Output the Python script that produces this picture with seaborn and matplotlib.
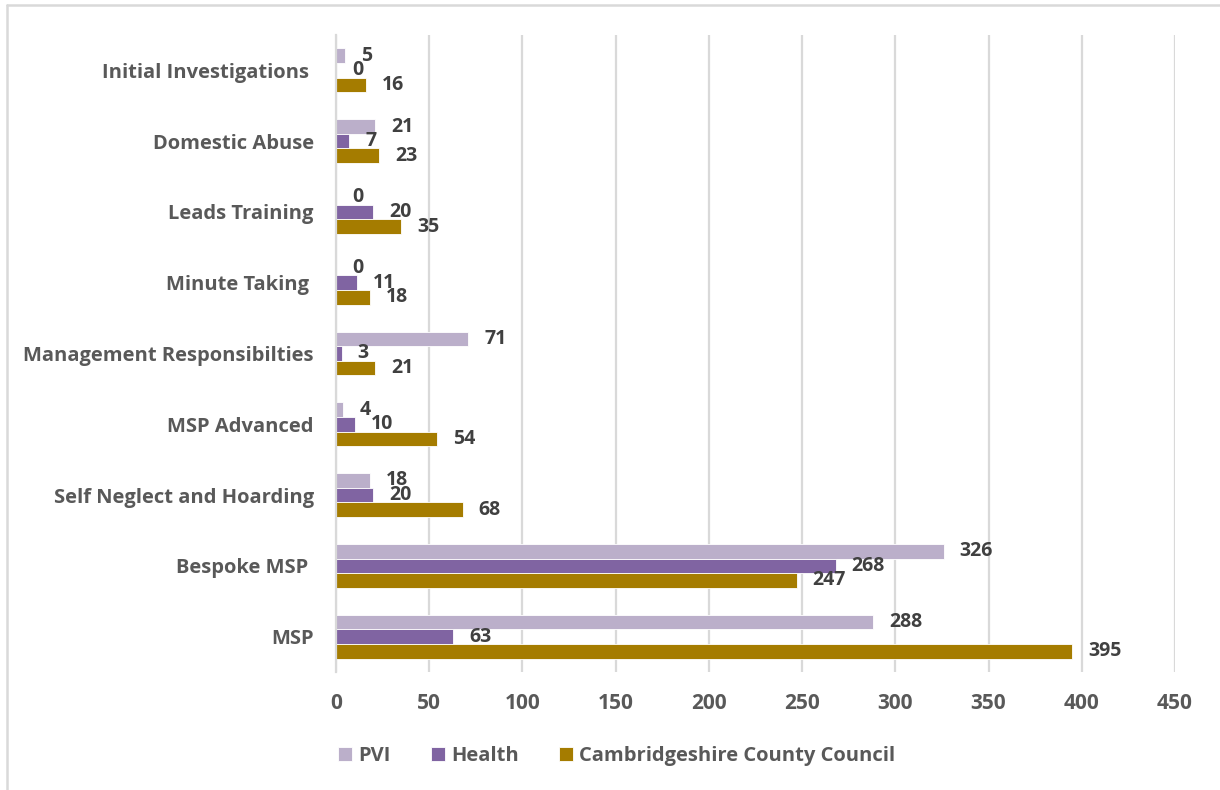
import matplotlib
matplotlib.use("Agg")
import matplotlib.pyplot as plt
from matplotlib.lines import Line2D
import pandas as pd
import seaborn as sns

# Course attendance by sector
categories = [
    "Initial Investigations ",
    "Domestic Abuse",
    "Leads Training",
    "Minute Taking ",
    "Management Responsibilties",
    "MSP Advanced",
    "Self Neglect and Hoarding",
    "Bespoke MSP ",
    "MSP",
]
series = ["PVI", "Health", "Cambridgeshire County Council"]
pvi = [5, 21, 0, 0, 71, 4, 18, 326, 288]
health = [0, 7, 20, 11, 3, 10, 20, 268, 63]
ccc = [16, 23, 35, 18, 21, 54, 68, 247, 395]
x_ticks = [0, 50, 100, 150, 200, 250, 300, 350, 400, 450]

colors = ["#bbafca", "#8064a2", "#a57c00"]
grid_gray = "#d9d9d9"
tick_gray = "#595959"
label_dark = "#404040"

rows = []
for name, vals in zip(series, [pvi, health, ccc]):
    for cat, v in zip(categories, vals):
        rows.append({"category": cat, "series": name, "value": v})
df = pd.DataFrame(rows)

sns.set_style("white")
plt.rcParams["font.family"] = ["Open Sans", "DejaVu Sans"]
plt.rcParams["font.weight"] = "bold"

fig = plt.figure(figsize=(12.2, 7.9), dpi=100)
ax = fig.add_axes([336 / 1220, 1 - 672 / 790, (1175 - 336) / 1220, (672 - 35) / 790])

sns.barplot(
    data=df, x="value", y="category", hue="series", orient="h",
    order=categories, hue_order=series, palette=colors,
    width=0.62, saturation=1, ax=ax, edgecolor="white", linewidth=0.6,
)

for cont in ax.containers:
    ax.bar_label(cont, fmt="%d", padding=11.5, fontsize=14,
                 fontweight="bold", color=label_dark)

ax.set_xlim(0, 450)
ax.set_xticks(x_ticks)
ax.set_ylim(len(categories) - 0.5, -0.5)
ax.set_xlabel("")
ax.set_ylabel("")

ax.grid(axis="x", color=grid_gray, linewidth=1.6)
ax.grid(axis="y", visible=False)
ax.set_axisbelow(True)
for s in ["top", "right", "bottom"]:
    ax.spines[s].set_visible(False)
ax.spines["left"].set_color(grid_gray)
ax.spines["left"].set_linewidth(1.6)

ax.tick_params(axis="x", length=0, pad=15, labelsize=15, labelcolor=tick_gray)
ax.tick_params(axis="y", length=0, pad=16, labelsize=14.5, labelcolor=tick_gray)
for t in ax.get_xticklabels() + ax.get_yticklabels():
    t.set_fontweight("bold")

handles, labels = ax.get_legend_handles_labels()
ax.get_legend().remove()
leg = fig.legend(
    handles, labels, loc="center", bbox_to_anchor=(617 / 1220, 1 - 756 / 790),
    ncol=3, frameon=False, fontsize=14.5, handlelength=0.7, handleheight=0.7,
    handletextpad=0.3, columnspacing=2.0,
)
for t in leg.get_texts():
    t.set_color(tick_gray)
    t.set_fontweight("bold")

# chart border (left and top edges)
fig.add_artist(Line2D([7 / 1220, 7 / 1220], [0, 1 - 5 / 790], color=grid_gray, lw=1.8))
fig.add_artist(Line2D([7 / 1220, 1], [1 - 5 / 790, 1 - 5 / 790], color=grid_gray, lw=1.8))

fig.savefig("out.png", dpi=100, facecolor="white")
